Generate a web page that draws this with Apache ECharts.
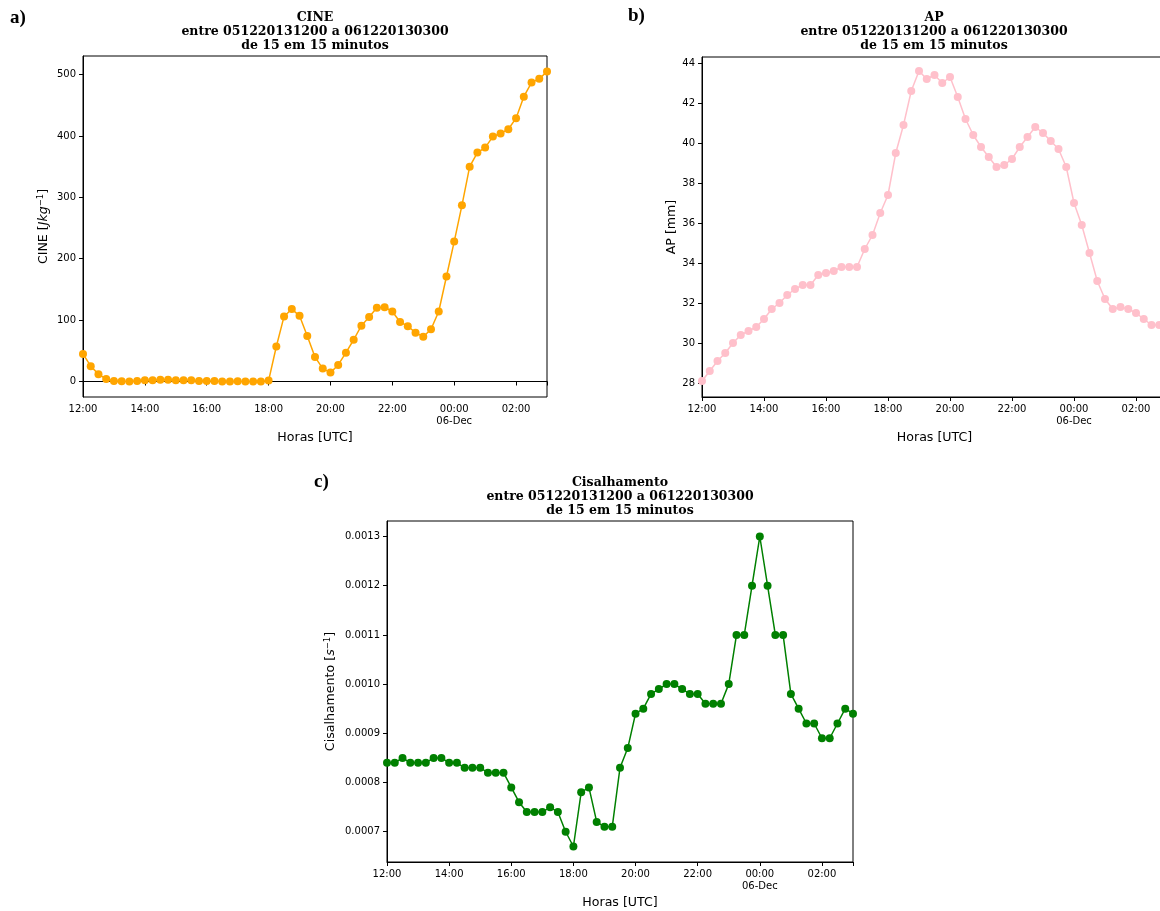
<!DOCTYPE html>
<html>
<head>
<meta charset="utf-8">
<script src="https://cdn.jsdelivr.net/npm/echarts@6/dist/echarts.min.js"></script>
<style>
  html, body { margin: 0; padding: 0; background: #fff; overflow: hidden; }
  #chart { width: 1180px; height: 911px; }
</style>
</head>
<body>
<div id="chart"></div>
<script>
// horario a cada 15 minutos, 05-Dec 12:00 ate 06-Dec 03:00
const times = [
    '12:00', '12:15', '12:30', '12:45', '13:00', '13:15', '13:30', '13:45',
    '14:00', '14:15', '14:30', '14:45', '15:00', '15:15', '15:30', '15:45',
    '16:00', '16:15', '16:30', '16:45', '17:00', '17:15', '17:30', '17:45',
    '18:00', '18:15', '18:30', '18:45', '19:00', '19:15', '19:30', '19:45',
    '20:00', '20:15', '20:30', '20:45', '21:00', '21:15', '21:30', '21:45',
    '22:00', '22:15', '22:30', '22:45', '23:00', '23:15', '23:30', '23:45',
    '00:00', '00:15', '00:30', '00:45', '01:00', '01:15', '01:30', '01:45',
    '02:00', '02:15', '02:30', '02:45', '03:00'
];

const cine = [
    45, 25, 12, 4, 1, 0.5, 0, 1,
    2, 2, 3, 3, 2, 2, 2, 1,
    1, 1, 0, 0, 0.5, 0, 0, 0,
    1.5, 57, 106, 118, 107, 74, 40, 21,
    14.5, 27, 47, 68, 91, 105, 120, 121,
    114, 97, 90, 79.5, 73, 85, 114, 171,
    228, 287, 350, 373, 381, 399, 404, 411,
    429, 464, 487, 493, 505
];

const ap = [
    28.1, 28.6, 29.1, 29.5, 30.0, 30.4, 30.6, 30.8,
    31.2, 31.7, 32.0, 32.4, 32.7, 32.9, 32.9, 33.4,
    33.5, 33.6, 33.8, 33.8, 33.8, 34.7, 35.4, 36.5,
    37.4, 39.5, 40.9, 42.6, 43.6, 43.2, 43.4, 43.0,
    43.3, 42.3, 41.2, 40.4, 39.8, 39.3, 38.8, 38.9,
    39.2, 39.8, 40.3, 40.8, 40.5, 40.1, 39.7, 38.8,
    37.0, 35.9, 34.5, 33.1, 32.2, 31.7, 31.8, 31.7,
    31.5, 31.2, 30.9, 30.9, 30.8
];

const cisalhamento = [
    0.00084, 0.00084, 0.00085, 0.00084, 0.00084, 0.00084, 0.00085, 0.00085,
    0.00084, 0.00084, 0.00083, 0.00083, 0.00083, 0.00082, 0.00082, 0.00082,
    0.00079, 0.00076, 0.00074, 0.00074, 0.00074, 0.00075, 0.00074, 0.0007,
    0.00067, 0.00078, 0.00079, 0.00072, 0.00071, 0.00071, 0.00083, 0.00087,
    0.00094, 0.00095, 0.00098, 0.00099, 0.0010, 0.0010, 0.00099, 0.00098,
    0.00098, 0.00096, 0.00096, 0.00096, 0.0010, 0.0011, 0.0011, 0.0012,
    0.0013, 0.0012, 0.0011, 0.0011, 0.00098, 0.00095, 0.00092, 0.00092,
    0.00089, 0.00089, 0.00092, 0.00095, 0.00094
];

const cineTicks = [0, 100, 200, 300, 400, 500];
const apTicks = [28, 30, 32, 34, 36, 38, 40, 42, 44];
const cisTicks = [0.0007, 0.0008, 0.0009, 0.0010, 0.0011, 0.0012, 0.0013];

const subtitle = 'entre 051220131200 a 061220130300\nde 15 em 15 minutos';

const chart = echarts.init(document.getElementById('chart'));

const tickFont = { fontFamily: 'DejaVu Sans', fontSize: 10, color: '#000' };

const makeX = (gridIndex) => ({
    type: 'category',
    gridIndex: gridIndex,
    data: times,
    boundaryGap: false,
    name: 'Horas [UTC]',
    nameLocation: 'middle',
    nameGap: 34,
    nameTextStyle: { fontFamily: 'DejaVu Sans', fontSize: 12.6, color: '#000' },
    axisLine: { lineStyle: { color: '#000', width: 1 } },
    axisTick: {
        inside: false,
        length: 4,
        lineStyle: { color: '#000' },
        interval: (i) => i % 8 === 0 || i === times.length - 1
    },
    axisLabel: {
        ...tickFont,
        margin: 6,
        lineHeight: 12,
        interval: (i) => i % 8 === 0,
        formatter: (v) => (v === '00:00' ? '00:00\n06-Dec' : v)
    },
    splitLine: { show: false }
});

const makeY = (gridIndex, min, max, ticks, name, gap, fmt) => ({
    type: 'value',
    gridIndex: gridIndex,
    min: min,
    max: max,
    name: name,
    nameLocation: 'middle',
    nameGap: gap,
    nameTextStyle: {
        fontFamily: 'DejaVu Sans', fontSize: 12.6, color: '#000',
        rich: {
            n: { fontFamily: 'DejaVu Sans', fontSize: 12.6, color: '#000' },
            i: { fontFamily: 'DejaVu Sans', fontStyle: 'italic', fontSize: 12.6, color: '#000' },
            s: { fontFamily: 'DejaVu Sans', fontSize: 8.5, color: '#000', verticalAlign: 'top', padding: [0, 0, 7, 0] }
        }
    },
    axisLine: { show: true, lineStyle: { color: '#000', width: 1 } },
    axisTick: { show: true, inside: false, length: 4, lineStyle: { color: '#000' }, customValues: ticks },
    axisLabel: { ...tickFont, margin: 7, customValues: ticks, formatter: fmt },
    splitLine: { show: false }
});

const makeSeries = (idx, data, color) => ({
    type: 'line',
    xAxisIndex: idx,
    yAxisIndex: idx,
    data: data,
    symbol: 'circle',
    symbolSize: 8,
    showAllSymbol: true,
    animation: false,
    itemStyle: { color: color },
    lineStyle: { color: color, width: 1.5 }
});

const titleStyle = (x, y, text) => ({
    type: 'text',
    x: x,
    y: y,
    style: {
        text: text,
        textAlign: 'center',
        textVerticalAlign: 'top',
        font: 'bold 12.5px "DejaVu Serif"',
        lineHeight: 14,
        fill: '#000'
    }
});

const panelLabel = (x, y, text) => ({
    type: 'text',
    x: x,
    y: y,
    style: { text: text, font: 'bold 19px "Liberation Serif"', fill: '#000', textVerticalAlign: 'top' }
});

const option = {
    backgroundColor: '#fff',
    animation: false,
    grid: [
        { left: 83, top: 56, width: 464, height: 341, show: true, borderColor: '#000', borderWidth: 1, backgroundColor: 'transparent' },
        { left: 702, top: 57, width: 465, height: 340, show: true, borderColor: '#000', borderWidth: 1, backgroundColor: 'transparent' },
        { left: 387, top: 521, width: 466, height: 341, show: true, borderColor: '#000', borderWidth: 1, backgroundColor: 'transparent' }
    ],
    xAxis: [makeX(0), makeX(1), makeX(2)],
    yAxis: [
        makeY(0, -25.25, 530.25, cineTicks, '{n|CINE [}{i|Jkg}{s|−1}{n|]}', 31, (v) => String(v)),
        makeY(1, 27.3, 44.3, apTicks, 'AP [mm]', 24, (v) => String(v)),
        makeY(2, 0.0006385, 0.0013315, cisTicks, '{n|Cisalhamento [}{i|s}{s|−1}{n|]}', 48, (v) => v.toFixed(4))
    ],
    series: [
        makeSeries(0, cine, '#FFA500'),
        makeSeries(1, ap, '#FFC0CB'),
        makeSeries(2, cisalhamento, '#008000')
    ],
    graphic: [
        titleStyle(315, 11, 'CINE\n' + subtitle),
        titleStyle(934, 11, 'AP\n' + subtitle),
        titleStyle(620, 476, 'Cisalhamento\n' + subtitle),
        panelLabel(10, 9, 'a)'),
        panelLabel(628, 7, 'b)'),
        panelLabel(314, 473, 'c)')
    ]
};

chart.setOption(option);
</script>
</body>
</html>
